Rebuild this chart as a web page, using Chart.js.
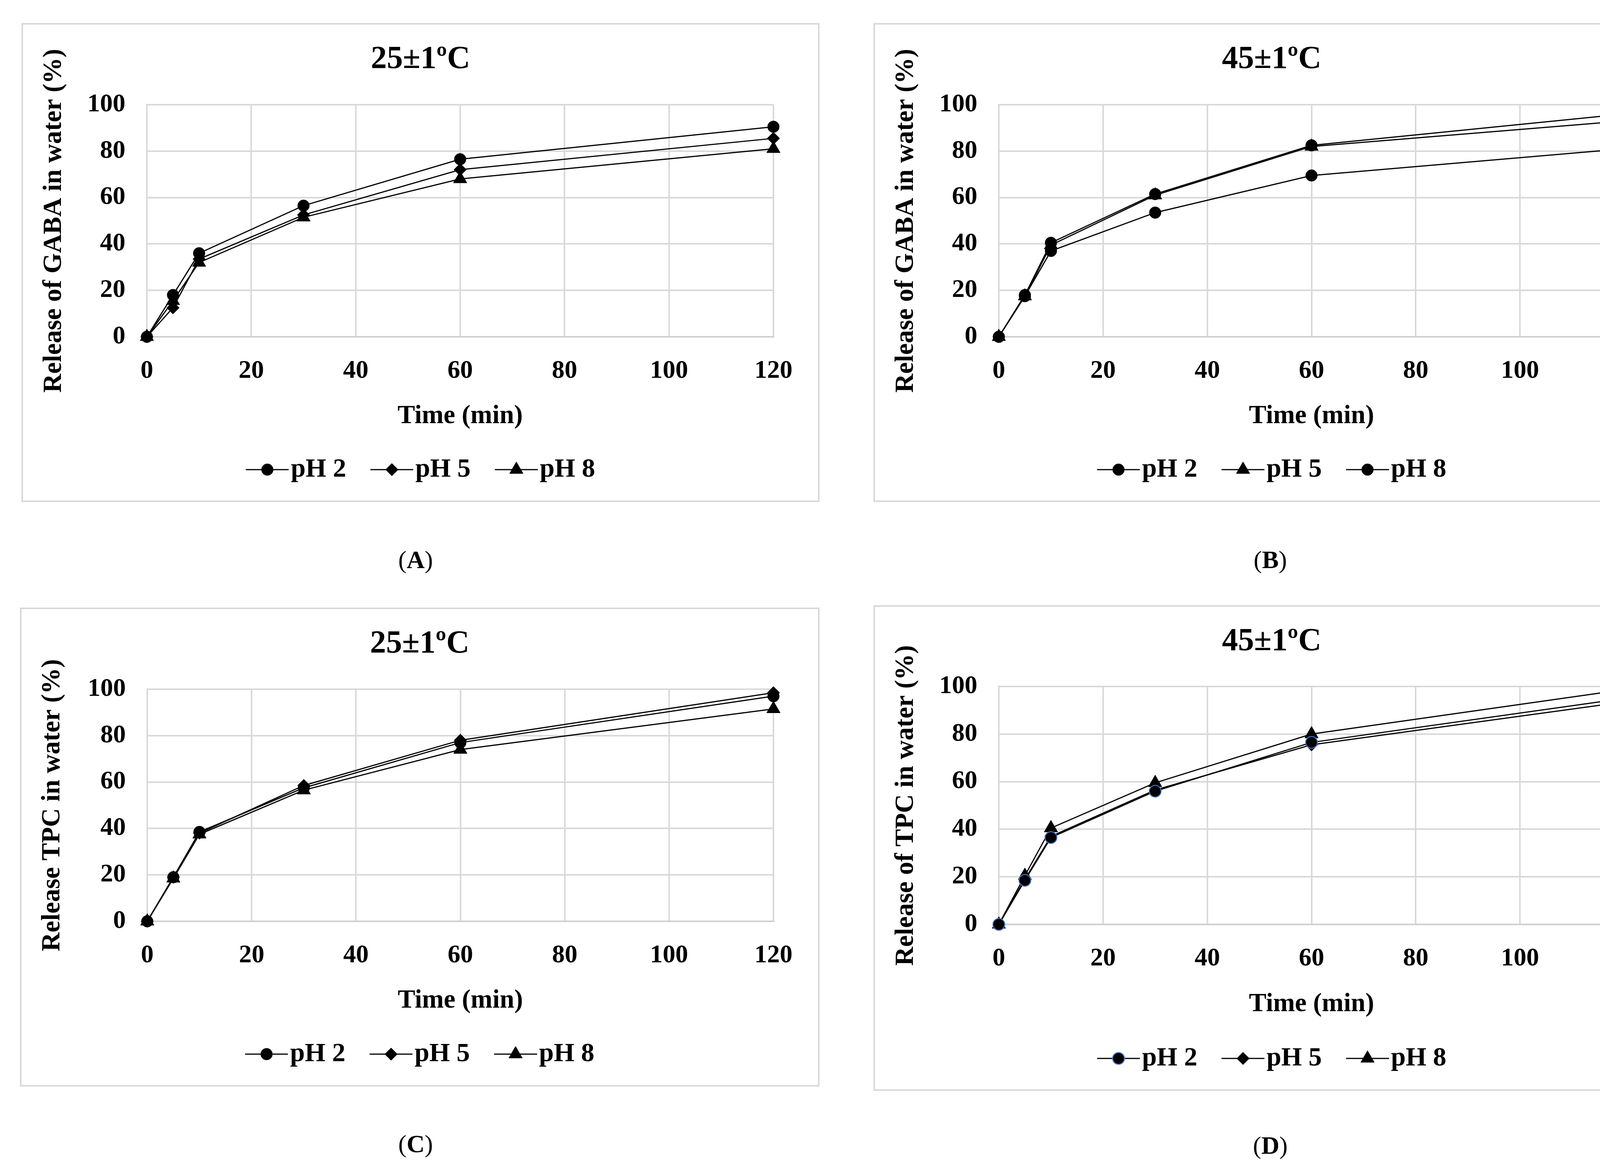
<!DOCTYPE html>
<html>
<head>
<meta charset="utf-8">
<script src="https://cdn.jsdelivr.net/npm/chart.js@4.4.1/dist/chart.umd.min.js"></script>
<style>
	html, body { margin: 0; padding: 0; background: #fff; }
	body { width: 4323px; height: 2992px; position: relative; overflow: hidden; }
	canvas { position: absolute; }
	.tag {
		position: absolute;
		font-family: 'Liberation Serif', 'Times New Roman', serif;
		font-size: 64px;
		color: #000;
		transform: translate(-50%, -50%);
		white-space: nowrap;
	}
</style>
</head>
<body>
<canvas id="chartA"></canvas>
<canvas id="chartB"></canvas>
<canvas id="chartC"></canvas>
<canvas id="chartD"></canvas>
<div class="tag" style="left:1064px; top:1433px">(<b>A</b>)</div>
<div class="tag" style="left:3252px; top:1433px">(<b>B</b>)</div>
<div class="tag" style="left:1064px; top:2928px">(<b>C</b>)</div>
<div class="tag" style="left:3252px; top:2932px">(<b>D</b>)</div>

<script>
// time points (min)
const timeMin = [0, 5, 10, 30, 60, 120];
const xTickValues = [0, 20, 40, 60, 80, 100, 120];
const yTickValues = [0, 20, 40, 60, 80, 100];
const seriesLabels = ['pH 2', 'pH 5', 'pH 8'];

// (A) GABA, 25 C
const gaba25_pH2 = [0, 18, 36, 56.5, 76.5, 90.5];
const gaba25_pH5 = [0, 12.5, 33.5, 52.5, 72, 85.5];
const gaba25_pH8 = [0, 15.5, 32, 51.5, 68, 81];

// (B) GABA, 45 C
const gaba45_pH2 = [0, 18, 40.5, 61.5, 82.5, 96];
const gaba45_pH5 = [0, 17.5, 39.5, 61, 82, 93];
const gaba45_pH8 = [0, 17.5, 37, 53.5, 69.5, 81];

// (C) TPC, 25 C
const tpc25_pH2 = [0, 19, 38.5, 57.5, 77, 97];
const tpc25_pH5 = [0, 19, 38, 58.5, 78, 98.5];
const tpc25_pH8 = [0, 18.5, 37.5, 56.5, 74, 91.5];

// (D) TPC, 45 C
const tpc45_pH2 = [0, 18.5, 36.5, 56, 76.5, 95];
const tpc45_pH5 = [0, 19, 37, 56.5, 75.5, 93.5];
const tpc45_pH8 = [0, 20.5, 40.5, 59.5, 80, 98.7];

const FONT = "'Liberation Serif', 'Times New Roman', serif";
Chart.defaults.color = '#000';

const markers = {
	circle: { pointStyle: 'circle', pointRadius: 15, fill: '#000', stroke: '#000', bw: 1 },
	blueCircle: { pointStyle: 'circle', pointRadius: 15, fill: '#000', stroke: '#4472c4', bw: 2.5 },
	diamond: { pointStyle: 'rectRot', pointRadius: 16, fill: '#000', stroke: '#000', bw: 1 },
	triangle: { pointStyle: 'triangle', pointRadius: 20, fill: '#000', stroke: '#000', bw: 1 },
};

// legend symbol "-marker-": 139px wide, the drawn part is its right 110px
const legendIcon = (m) => {
	const c = document.createElement('canvas');
	c.width = 139;
	c.height = 50;
	const g = c.getContext('2d');
	const cx = 29 + 55;
	const cy = 25;
	const r = m.pointRadius;
	g.strokeStyle = '#000';
	g.lineWidth = 3;
	g.beginPath();
	g.moveTo(29, cy);
	g.lineTo(139, cy);
	g.stroke();
	g.beginPath();
	if (m.pointStyle === 'circle') {
		g.arc(cx, cy, r, 0, Math.PI * 2);
	} else if (m.pointStyle === 'rectRot') {
		g.moveTo(cx, cy - r);
		g.lineTo(cx + r, cy);
		g.lineTo(cx, cy + r);
		g.lineTo(cx - r, cy);
		g.closePath();
	} else {
		g.moveTo(cx, cy - r);
		g.lineTo(cx + r * 0.866, cy + r * 0.5);
		g.lineTo(cx - r * 0.866, cy + r * 0.5);
		g.closePath();
	}
	g.fillStyle = m.fill;
	g.fill();
	g.strokeStyle = m.stroke;
	g.lineWidth = m.bw;
	g.stroke();
	return c;
};

const boxBorder = {
	id: 'boxBorder',
	beforeDraw(chart) {
		const { ctx, width, height } = chart;
		ctx.save();
		ctx.fillStyle = '#fff';
		ctx.fillRect(0, 0, width, height);
		ctx.strokeStyle = '#d9d9d9';
		ctx.lineWidth = 4;
		ctx.strokeRect(2, 2, width - 4, height - 4);
		ctx.restore();
	},
};

const panels = [
	{
		id: 'chartA', box: [55, 59, 2043, 1226], plot: [321, 209, 1925, 803],
		title: '25±1ºC', yTitle: 'Release of GABA in water (%)',
		series: [gaba25_pH2, gaba25_pH5, gaba25_pH8],
		marks: ['circle', 'diamond', 'triangle'],
	},
	{
		id: 'chartB', box: [2236, 59, 2039, 1226], plot: [321, 209, 1922, 803],
		title: '45±1ºC', yTitle: 'Release of GABA in water (%)',
		series: [gaba45_pH2, gaba45_pH5, gaba45_pH8],
		marks: ['circle', 'triangle', 'circle'],
	},
	{
		id: 'chartC', box: [51, 1555, 2047, 1226], plot: [326, 209, 1929, 803],
		title: '25±1ºC', yTitle: 'Release TPC in water (%)',
		series: [tpc25_pH2, tpc25_pH5, tpc25_pH8],
		marks: ['circle', 'diamond', 'triangle'],
	},
	{
		id: 'chartD', box: [2236, 1549, 2039, 1243], plot: [321, 208, 1922, 817],
		title: '45±1ºC', yTitle: 'Release of TPC in water (%)',
		series: [tpc45_pH2, tpc45_pH5, tpc45_pH8],
		marks: ['blueCircle', 'diamond', 'triangle'],
	},
];

const makeChart = (p) => {
	const canvas = document.getElementById(p.id);
	const [bx, by, W, H] = p.box;
	const [pl, pt, pr, pb] = p.plot;
	canvas.width = W;
	canvas.height = H;
	canvas.style.left = bx + 'px';
	canvas.style.top = by + 'px';

	const legendFont = 68;
	const legendGap = 62;
	const legendBottom = 39;
	const legendH = legendFont + legendGap + 10;
	const xAxisH = H - legendBottom - legendH - pb;
	const titleSize = 82;
	const titleLine = titleSize * 1.2;
	const titleTop = 45;
	const xTitleLine = 67 * 1.2;

	const datasets = p.series.map((ys, i) => {
		const m = markers[p.marks[i]];
		return {
			label: seriesLabels[i],
			data: timeMin.map((x, j) => ({ x, y: ys[j] })),
			borderColor: '#000',
			borderWidth: 3,
			pointStyle: m.pointStyle,
			pointRadius: m.pointRadius,
			pointHoverRadius: m.pointRadius,
			pointBackgroundColor: m.fill,
			pointBorderColor: m.stroke,
			pointBorderWidth: m.bw,
			tension: 0,
			fill: false,
			clip: false,
			yAxisID: 'y',
		};
	});
	const icons = p.marks.map((k) => legendIcon(markers[k]));

	const config = {
		type: 'line',
		data: { datasets },
		plugins: [boxBorder],
		options: {
			responsive: false,
			animation: false,
			devicePixelRatio: 1,
			layout: { padding: { left: 0, top: 0, right: 0, bottom: legendBottom } },
			plugins: {
				tooltip: { enabled: false },
				title: {
					display: true,
					text: p.title,
					font: { family: FONT, size: titleSize, weight: 'bold', lineHeight: 1.2 },
					color: '#000',
					padding: { top: titleTop, bottom: pt - titleLine - titleTop },
				},
				legend: {
					position: 'bottom',
					labels: {
						usePointStyle: true,
						pointStyleWidth: 81,
						padding: legendGap,
						color: '#000',
						font: { family: FONT, size: legendFont, weight: 'bold' },
						generateLabels(chart) {
							const items = Chart.defaults.plugins.legend.labels.generateLabels(chart);
							items.forEach((it, i) => {
								it.pointStyle = icons[i];
							});
							return items;
						},
					},
				},
			},
			scales: {
				x: {
					type: 'linear',
					min: 0,
					max: 120,
					afterBuildTicks: (scale) => {
						scale.ticks = xTickValues.map((v) => ({ value: v }));
					},
					afterFit: (scale) => {
						scale.height = xAxisH;
					},
					grid: { color: '#d9d9d9', lineWidth: 4, drawTicks: false },
					border: { color: '#d0d0d0', width: 4 },
					ticks: {
						padding: 49,
						maxRotation: 0,
						font: { family: FONT, size: 65, weight: 'bold' },
						color: '#000',
					},
					title: {
						display: true,
						text: 'Time (min)',
						font: { family: FONT, size: 67, weight: 'bold', lineHeight: 1.2 },
						color: '#000',
						padding: { top: 0, bottom: Math.max(0, xAxisH - 205 - xTitleLine / 2) },
					},
				},
				y: {
					position: 'left',
					min: 0,
					max: 100,
					afterBuildTicks: (scale) => {
						scale.ticks = yTickValues.map((v) => ({ value: v }));
					},
					afterFit: (scale) => {
						scale.width = pl;
					},
					grid: { color: '#d9d9d9', lineWidth: 4, drawTicks: false },
					border: { color: '#d9d9d9', width: 4 },
					ticks: {
						padding: 55,
						font: { family: FONT, size: 65, weight: 'bold' },
						color: '#000',
					},
					title: {
						display: true,
						text: p.yTitle,
						font: { family: FONT, size: 67, weight: 'bold', lineHeight: 1.2 },
						color: '#000',
						padding: { top: 43, bottom: 0 },
					},
				},
				// empty right-hand box, only keeps the space right of the plot
				yR: {
					position: 'right',
					min: 0,
					max: 100,
					grid: { display: false, drawTicks: false },
					border: { display: false },
					ticks: { display: false },
					afterFit: (scale) => {
						scale.width = W - pr;
					},
				},
			},
		},
	};

	return new Chart(canvas.getContext('2d'), config);
};

panels.forEach(makeChart);
</script>
</body>
</html>
